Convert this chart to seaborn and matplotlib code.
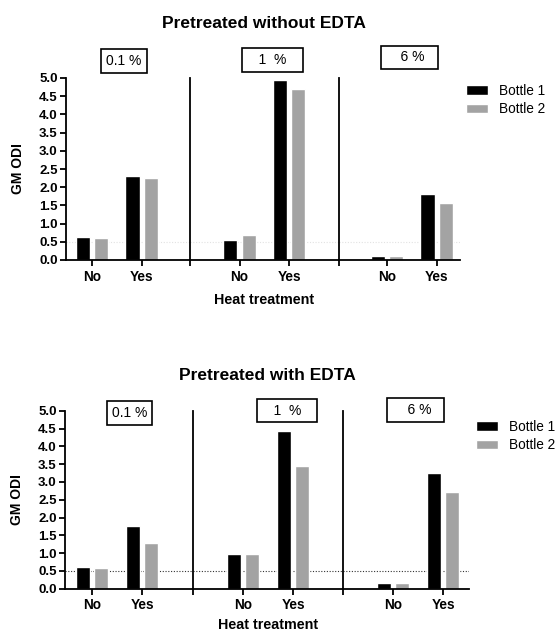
import numpy as np
import pandas as pd
import matplotlib
matplotlib.use('Agg')
import matplotlib.pyplot as plt
import seaborn as sns

# categories
concentrations = ['0.1 %', '1 %', '6 %']
box_labels = ['0.1 %', '   1  %   ', '    6 %  ']
heat = ['No', 'Yes']
bottles = ['Bottle 1', 'Bottle 2']

# GM ODI, order: 0.1% No, 0.1% Yes, 1% No, 1% Yes, 6% No, 6% Yes
no_edta_bottle1 = [0.64, 2.31, 0.55, 4.94, 0.10, 1.80]
no_edta_bottle2 = [0.60, 2.24, 0.69, 4.69, 0.10, 1.57]
edta_bottle1 = [0.60, 1.77, 0.97, 4.44, 0.16, 3.26]
edta_bottle2 = [0.57, 1.27, 0.97, 3.45, 0.15, 2.72]

yticks = [0.0, 0.5, 1.0, 1.5, 2.0, 2.5, 3.0, 3.5, 4.0, 4.5, 5.0]
threshold = 0.5

sns.set_style('ticks')
plt.rcParams['font.family'] = ['Liberation Sans', 'DejaVu Sans']
for key in ['text.color', 'axes.labelcolor', 'xtick.color', 'ytick.color', 'axes.edgecolor']:
    plt.rcParams[key] = 'black'
palette = {'Bottle 1': '#000000', 'Bottle 2': '#a3a3a3'}


def to_frame(b1, b2):
    rows = []
    for i, c in enumerate(concentrations):
        for j, h in enumerate(heat):
            rows.append({'conc': c, 'heat': h, 'bottle': 'Bottle 1', 'odi': b1[i * 2 + j]})
            rows.append({'conc': c, 'heat': h, 'bottle': 'Bottle 2', 'odi': b2[i * 2 + j]})
    return pd.DataFrame(rows)


def draw_chart(fig, data, title, rect, widths, xlims, box_xy, line_color, legend_xy, title_xy,
               xlabel_pad):
    left, right, bottom, top = rect
    gs = fig.add_gridspec(1, 3, left=left, right=right, bottom=bottom, top=top,
                          width_ratios=widths, wspace=0)
    axes = [fig.add_subplot(gs[0, k]) for k in range(3)]
    for k, ax in enumerate(axes):
        sub = data[data['conc'] == concentrations[k]]
        sns.barplot(data=sub, x='heat', y='odi', hue='bottle', order=heat, hue_order=bottles,
                    palette=palette, saturation=1, width=0.74, gap=0.22, errorbar=None,
                    legend=(k == 2), ax=ax)
        ax.axhline(threshold, color=line_color, ls=(0, (1, 1.5)), lw=0.8, zorder=0)
        ax.set_xlim(*xlims[k])
        ax.set_ylim(0, 5)
        sns.despine(ax=ax)
        for s in ['left', 'bottom']:
            ax.spines[s].set_linewidth(1.3)
        ax.set_ylabel('')
        ax.set_xlabel('')
        ax.tick_params(axis='x', which='both', length=4, width=1.3, pad=3, labelsize=9.8)
        for lab in ax.get_xticklabels():
            lab.set_fontweight('bold')
        if k == 0:
            ax.set_yticks(yticks)
            ax.set_yticklabels([f'{v:.1f}' for v in yticks], fontweight='bold')
            ax.tick_params(axis='y', length=4, width=1.3, pad=2, labelsize=9.5)
            ax.set_ylabel('GM ODI', fontsize=10, fontweight='bold', labelpad=10)
        else:
            ax.set_yticks([])
            ax.set_xticks([xlims[k][0]], minor=True)
        if k == 1:
            ax.set_xlabel('Heat treatment', fontsize=10.3, fontweight='bold', labelpad=xlabel_pad)
        ax.text(box_xy[k][0], box_xy[k][1], box_labels[k], transform=ax.transAxes,
                ha='center', va='center', fontsize=10, clip_on=False,
                bbox=dict(boxstyle='square,pad=0.35', fc='white', ec='black', lw=1.2))
    sns.move_legend(axes[2], 'upper left', bbox_to_anchor=legend_xy,
                    bbox_transform=fig.transFigure, frameon=False, title=None,
                    fontsize=9.8, handlelength=1.6, handleheight=0.7, handletextpad=0.8,
                    labelspacing=0.3, borderpad=0, borderaxespad=0)
    fig.text(title_xy[0], title_xy[1], title, ha='center', va='center',
             fontsize=12.5, fontweight='bold')


W, H = 556, 633
fig = plt.figure(figsize=(W / 100, H / 100), dpi=100)

draw_chart(fig, to_frame(no_edta_bottle1, no_edta_bottle2), 'Pretreated without EDTA',
           (66 / W, 460 / W, 1 - 260 / H, 1 - 78 / H), [124, 149, 121],
           [(-0.53, 1.98), (-1.0, 2.01), (-0.97, 1.47)],
           [(0.468, 1.094), (0.554, 1.099), (0.579, 1.113)], '#e2e2e2',
           (466 / W, 1 - 84 / H), (264 / W, 1 - 23 / H), 7)

draw_chart(fig, to_frame(edta_bottle1, edta_bottle2), 'Pretreated with EDTA',
           (65 / W, 469 / W, 1 - 588.7 / H, 1 - 410.7 / H), [128, 150, 126],
           [(-0.54, 2.02), (-1.0, 2.0), (-1.0, 1.52)],
           [(0.504, 0.987), (0.627, 1.001), (0.575, 1.004)], '#333333',
           (476 / W, 1 - 420 / H), (267 / W, 1 - 375 / H), 4)

fig.savefig('out.png', dpi=100)
